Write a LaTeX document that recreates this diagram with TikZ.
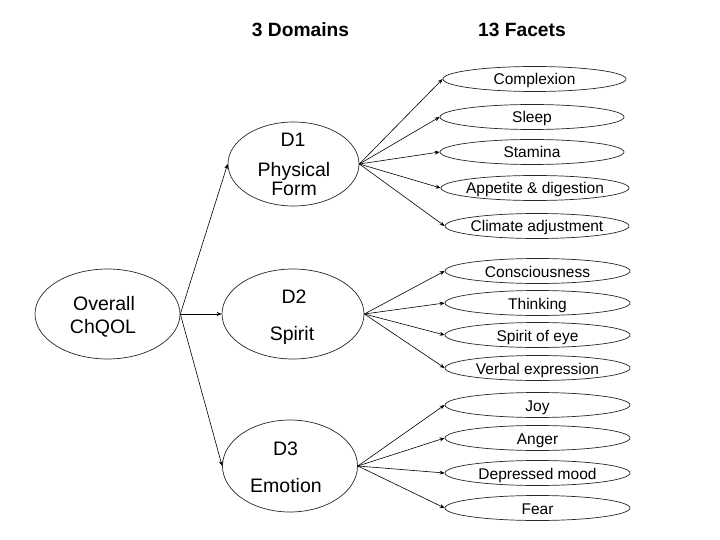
\documentclass[tikz,border=0pt]{standalone}
\usepackage{fontspec}
\setmainfont{Liberation Sans}
\usetikzlibrary{shapes.geometric,arrows.meta}
\tikzset{
  ell/.style={draw=black!85, line width=0.7pt, ellipse, inner sep=0pt},
  facet/.style={ell, minimum width=185pt, minimum height=25pt},
  ftxt/.style={anchor=base, inner sep=0pt, font=\fontsize{15.5}{18}\selectfont},
  dtxt/.style={anchor=base, inner sep=0pt, font=\fontsize{19.5}{22}\selectfont},
  ttl/.style={anchor=base, inner sep=0pt, font=\fontsize{19.2}{22}\selectfont\bfseries},
  arr/.style={draw=black, line width=0.6pt, -{Stealth[length=5pt,width=4pt]}}
}
\begin{document}
\begin{tikzpicture}[x=1pt,y=-1pt]
\useasboundingbox (0,0) rectangle (720,540);
% titles
\node[ttl] (t1) at (300.5,36.5) {3 Domains};
\node[ttl] (t2) at (522,36.5) {13 Facets};
% overall
\node[ell, minimum width=145pt, minimum height=90pt] (ov) at (107.5,314) {};
\node[dtxt] (ovt1) at (104,310) {Overall};
\node[dtxt] (ovt2) at (103,333.5) {ChQOL};
% domains
\node[ell, minimum width=131pt, minimum height=84pt] (d1) at (293.5,164) {};
\node[dtxt] (d1a) at (293,147) {D1};
\node[dtxt] (d1b) at (294,177) {Physical};
\node[dtxt] (d1c) at (294,196) {Form};
\node[ell, minimum width=142pt, minimum height=90pt] (d2) at (293,314) {};
\node[dtxt] (d2a) at (294,303.5) {D2};
\node[dtxt] (d2b) at (292,340) {Spirit};
\node[ell, minimum width=135pt, minimum height=92pt] (d3) at (290,466) {};
\node[dtxt] (d3a) at (285.5,455) {D3};
\node[dtxt] (d3b) at (286,492) {Emotion};
% facets
\node[facet, minimum width=183pt] (f1) at (534.5,79) {};
\node[ftxt] (f1t) at (534.5,85) {Complexion};
\node[facet, minimum width=184pt] (f2) at (532,117) {};
\node[ftxt] (f2t) at (532,123) {Sleep};
\node[facet, minimum width=184pt] (f3) at (532,152) {};
\node[ftxt] (f3t) at (532,158) {Stamina};
\node[facet, minimum width=188pt] (f4) at (535,188) {};
\node[ftxt] (f4t) at (535,194) {Appetite \& digestion};
\node[facet, minimum width=184pt] (f5) at (537,226) {};
\node[ftxt] (f5t) at (537,232) {Climate adjustment};
\node[facet] (f6) at (537.5,271) {};
\node[ftxt] (f6t) at (537.5,277) {Consciousness};
\node[facet] (f7) at (537.5,303) {};
\node[ftxt] (f7t) at (537.5,309) {Thinking};
\node[facet] (f8) at (537.5,335) {};
\node[ftxt] (f8t) at (537.5,341) {Spirit of eye};
\node[facet] (f9) at (537.5,368) {};
\node[ftxt] (f9t) at (537.5,374) {Verbal expression};
\node[facet] (f10) at (537.5,405) {};
\node[ftxt] (f10t) at (537.5,411) {Joy};
\node[facet] (f11) at (537.5,438) {};
\node[ftxt] (f11t) at (537.5,444) {Anger};
\node[facet] (f12) at (537.5,473) {};
\node[ftxt] (f12t) at (537.5,479) {Depressed mood};
\node[facet] (f13) at (537.5,508) {};
\node[ftxt] (f13t) at (537.5,514) {Fear};
% connectors
\draw[arr] (ov.east) -- (d1.west);
\draw[arr] (ov.east) -- (d2.west);
\draw[arr] (ov.east) -- (d3.west);
\foreach \f in {f1,f2,f3,f4,f5} \draw[arr] (d1.east) -- (\f.west);
\foreach \f in {f6,f7,f8,f9} \draw[arr] (d2.east) -- (\f.west);
\foreach \f in {f10,f11,f12,f13} \draw[arr] (d3.east) -- (\f.west);
\end{tikzpicture}
\end{document}
